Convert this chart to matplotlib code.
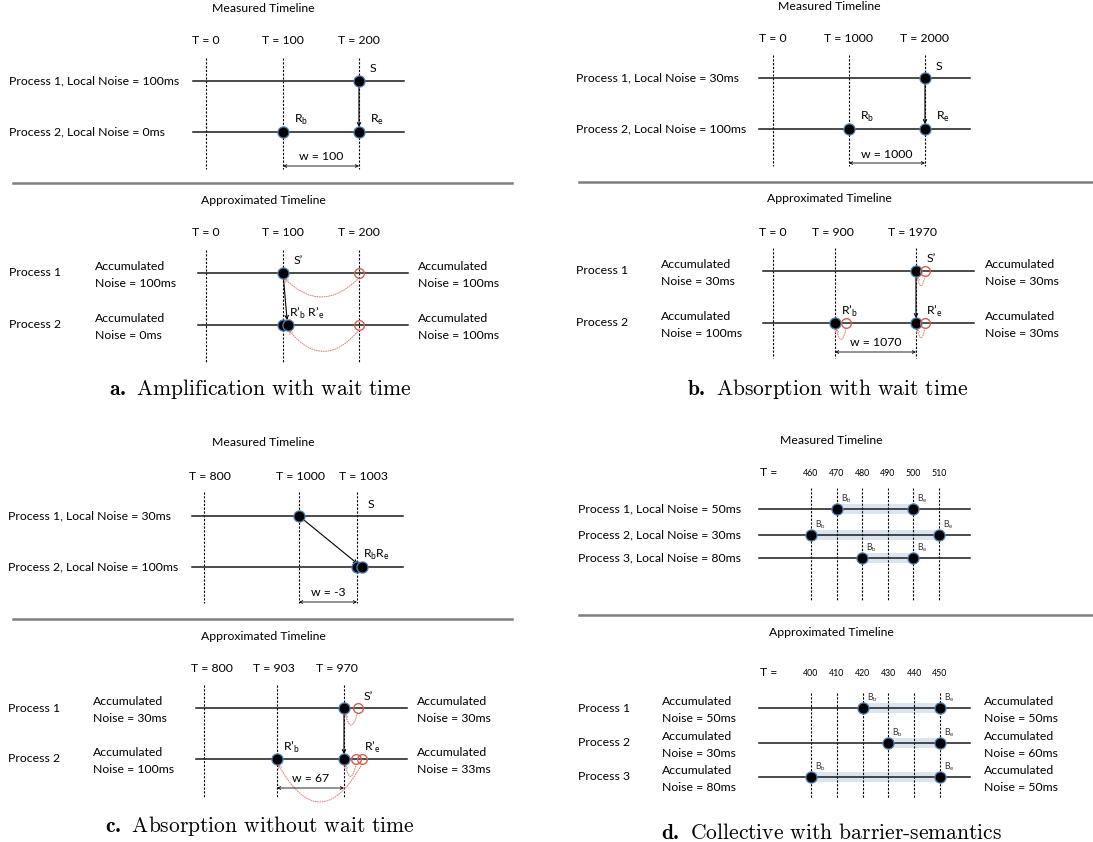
import matplotlib.pyplot as plt
from matplotlib.patches import FancyArrowPatch, Rectangle

plt.rcParams['font.family'] = ['Lato', 'DejaVu Sans']
plt.rcParams['mathtext.fontset'] = 'custom'
plt.rcParams['mathtext.rm'] = 'Lato'
plt.rcParams['mathtext.bf'] = 'cmb10'

# ---------------- data ----------------
# events are (process, guide, slot); slot = small step to the right of the guide
# a. Amplification with wait time
a_meas_ticks = ['T = 0', 'T = 100', 'T = 200']
a_meas_procs = ['Process 1, Local Noise = 100ms', 'Process 2, Local Noise = 0ms']
a_meas_dots = [(0, 2, 0), (1, 1, 0), (1, 2, 0)]
a_meas_labels = [(0, 2, 1, 'S'), (1, 1, 1, 'R$_\\mathrm{b}$'), (1, 2, 1, 'R$_\\mathrm{e}$')]
a_meas_msgs = [((0, 2, 0), (1, 2, 0))]
a_meas_wait = (1, 2, 'w = 100')

a_apx_ticks = ['T = 0', 'T = 100', 'T = 200']
a_apx_procs = ['Process 1', 'Process 2']
a_apx_noise_in = ['Accumulated\nNoise = 100ms', 'Accumulated\nNoise = 0ms']
a_apx_noise_out = ['Accumulated\nNoise = 100ms', 'Accumulated\nNoise = 100ms']
a_apx_dots = [(0, 1, 0), (1, 1, 0), (1, 1, 1)]
a_apx_ghosts = [(0, 2, 0), (1, 2, 0)]
a_apx_shifts = [((0, 2, 0), (0, 1, 0)), ((1, 2, 0), (1, 1, 1))]
a_apx_labels = [(0, 1, 1, 'S\u2019'), (1, 1, 0, 'R\u2019$_\\mathrm{b}$ R\u2019$_\\mathrm{e}$')]
a_apx_msgs = [((0, 1, 0), (1, 1, 1))]

# b. Absorption with wait time
b_meas_ticks = ['T = 0', 'T = 1000', 'T = 2000']
b_meas_procs = ['Process 1, Local Noise = 30ms', 'Process 2, Local Noise = 100ms']
b_meas_dots = [(0, 2, 0), (1, 1, 0), (1, 2, 0)]
b_meas_labels = [(0, 2, 1, 'S'), (1, 1, 1, 'R$_\\mathrm{b}$'), (1, 2, 1, 'R$_\\mathrm{e}$')]
b_meas_msgs = [((0, 2, 0), (1, 2, 0))]
b_meas_wait = (1, 2, 'w = 1000')

b_apx_ticks = ['T = 0', 'T = 900', 'T = 1970']
b_apx_procs = ['Process 1', 'Process 2']
b_apx_noise_in = ['Accumulated\nNoise = 30ms', 'Accumulated\nNoise = 100ms']
b_apx_noise_out = ['Accumulated\nNoise = 30ms', 'Accumulated\nNoise = 30ms']
b_apx_dots = [(0, 2, 0), (1, 1, 0), (1, 2, 0)]
b_apx_ghosts = [(0, 2, 2), (1, 1, 2.5), (1, 2, 2)]
b_apx_shifts = [((0, 2, 2), (0, 2, 0)), ((1, 1, 2.5), (1, 1, 0)), ((1, 2, 2), (1, 2, 0))]
b_apx_labels = [(0, 2, 1, 'S\u2019'), (1, 1, 0, 'R\u2019$_\\mathrm{b}$'), (1, 2, 1, 'R\u2019$_\\mathrm{e}$')]
b_apx_msgs = [((0, 2, 0), (1, 2, 0))]
b_apx_wait = (1, 2, 'w = 1070')

# c. Absorption without wait time
c_meas_ticks = ['T = 800', 'T = 1000', 'T = 1003']
c_meas_procs = ['Process 1, Local Noise = 30ms', 'Process 2, Local Noise = 100ms']
c_meas_dots = [(0, 1, 0), (1, 2, 0), (1, 2, 1)]
c_meas_labels = [(0, 2, 1, 'S'), (1, 2, 0, 'R$_\\mathrm{b}$R$_\\mathrm{e}$')]
c_meas_msgs = [((0, 1, 0), (1, 2, 1))]
c_meas_wait = (1, 2, 'w = -3')

c_apx_ticks = ['T = 800', 'T = 903', 'T = 970']
c_apx_procs = ['Process 1', 'Process 2']
c_apx_noise_in = ['Accumulated\nNoise = 30ms', 'Accumulated\nNoise = 100ms']
c_apx_noise_out = ['Accumulated\nNoise = 30ms', 'Accumulated\nNoise = 33ms']
c_apx_dots = [(0, 2, 0), (1, 1, 0), (1, 2, 0)]
c_apx_ghosts = [(0, 2, 3), (1, 2, 2.7), (1, 2, 4)]
c_apx_shifts = [((0, 2, 3), (0, 2, 0)), ((1, 2, 2.7), (1, 2, 0)), ((1, 2, 4), (1, 1, 0))]
c_apx_labels = [(0, 2, 3, 'S\u2019'), (1, 1, 0, 'R\u2019$_\\mathrm{b}$'), (1, 2, 3, 'R\u2019$_\\mathrm{e}$')]
c_apx_msgs = [((0, 2, 0), (1, 2, 0))]
c_apx_wait = (1, 2, 'w = 67')

# d. Collective with barrier-semantics
d_meas_ticks = [460, 470, 480, 490, 500, 510]
d_meas_procs = ['Process 1, Local Noise = 50ms', 'Process 2, Local Noise = 30ms',
                'Process 3, Local Noise = 80ms']
d_meas_barrier = [(470, 500), (460, 510), (480, 500)]

d_apx_ticks = [400, 410, 420, 430, 440, 450]
d_apx_procs = ['Process 1', 'Process 2', 'Process 3']
d_apx_noise_in = ['Accumulated\nNoise = 50ms', 'Accumulated\nNoise = 30ms', 'Accumulated\nNoise = 80ms']
d_apx_noise_out = ['Accumulated\nNoise = 50ms', 'Accumulated\nNoise = 60ms', 'Accumulated\nNoise = 50ms']
d_apx_barrier = [(420, 450), (430, 450), (400, 450)]

captions = ['Amplification with wait time', 'Absorption with wait time',
            'Absorption without wait time', 'Collective with barrier-semantics']

# ---------------- drawing ----------------
FS = 8.8
SLOT = 4.5
RED = '#e07a6a'
DOT = dict(marker='o', ms=8, mfc='black', mec='#4f81bd', mew=0.9, ls='none', zorder=6)
GHOST = dict(marker='o', ms=7, mfc='none', mec='#d9604f', mew=1.0, ls='none', zorder=6)

fig = plt.figure(figsize=(10.93, 8.42), dpi=100)
ax = fig.add_axes([0, 0, 1, 1])
ax.set_xlim(0, 1093)
ax.set_ylim(842, 0)
ax.axis('off')


def base(lay, title, ticks, procs, noise_in=None, noise_out=None, tick_x=None):
    ax.text(lay['cx'], lay['title_y'], title, ha='center', va='center', fontsize=FS)
    for x, t in zip(tick_x, ticks):
        ax.text(x, lay['tick_y'], t, ha='center', va='center', fontsize=lay.get('tick_fs', FS))
    for x in lay['guides']:
        ax.plot([x, x], lay['span'], color='black', lw=0.8, ls=(0, (2, 1.4)), zorder=2)
    for i, (y, name) in enumerate(zip(lay['rows'], procs)):
        ax.plot(lay['line'], [y, y], color='#1a1a1a', lw=1.1, zorder=3)
        ax.text(lay['label_x'], y, name, ha='left', va='center', fontsize=FS)
        if noise_in:
            ax.text(lay['in_x'], y + 2, noise_in[i], ha='left', va='center',
                    fontsize=FS, linespacing=1.6)
            ax.text(lay['out_x'], y + 2, noise_out[i], ha='left', va='center',
                    fontsize=FS, linespacing=1.6)


def timeline(lay, title, ticks, procs, dots=(), ghosts=(), labels=(), msgs=(),
             shifts=(), wait=None, noise_in=None, noise_out=None):
    gx, ry = lay['guides'], lay['rows']

    def pos(ev):
        p, g, s = ev
        return gx[g] + s * SLOT, ry[p]

    base(lay, title, ticks, procs, noise_in, noise_out, lay.get('tick_x', gx))
    for ev in dots:
        ax.plot(*pos(ev), **DOT)
    for ev in ghosts:
        ax.plot(*pos(ev), **GHOST)
    for p, g, s, txt in labels:
        ax.text(gx[g] + s * SLOT + 6, ry[p] - 12, txt, ha='left', va='center', fontsize=FS)
    for a, b in msgs:
        ax.add_patch(FancyArrowPatch(pos(a), pos(b), arrowstyle='->', mutation_scale=6,
                                     lw=0.8, color='black', shrinkA=3.5, shrinkB=3.5, zorder=5))
    for (a, b), rad in zip(shifts, lay.get('bends', [])):
        xa, ya = pos(a)
        xb, yb = pos(b)
        ax.add_patch(FancyArrowPatch((xa, ya + 5), (xb + 1, yb + 5), arrowstyle='->',
                                     mutation_scale=6, lw=0.7, color=RED, ls=(0, (1, 1.4)),
                                     connectionstyle='arc3,rad=%s' % rad,
                                     shrinkA=0, shrinkB=0, zorder=4))
    if wait:
        g0, g1, txt = wait
        y = lay['wait_y']
        ax.add_patch(FancyArrowPatch((gx[g0], y), (gx[g1], y), arrowstyle='<->',
                                     mutation_scale=5, lw=0.6, color='black',
                                     shrinkA=0, shrinkB=0, zorder=4))
        ax.text((gx[g0] + gx[g1]) / 2, y - 9, txt, ha='center', va='center', fontsize=FS)


def barrier(lay, title, ticks, procs, spans, noise_in=None, noise_out=None):
    step = ticks[1] - ticks[0]

    def tx(t):
        return lay['x0'] + (t - ticks[0]) / step * lay['step']

    lay['guides'] = [tx(t) for t in ticks]
    base(lay, title, [str(t) for t in ticks], procs, noise_in, noise_out, lay['guides'])
    ax.text(lay['teq_x'], lay['tick_y'], 'T =', ha='center', va='center', fontsize=FS)
    for y, (tb, te) in zip(lay['rows'], spans):
        ax.add_patch(Rectangle((tx(tb), y - 5), tx(te) - tx(tb), 10, color='#dbe5f1', lw=0, zorder=1))
        ax.plot([tx(tb), tx(te)], [y, y], **DOT)
        ax.text(tx(tb) + 4, y - 10, 'B$_\\mathrm{b}$', ha='left', va='center', fontsize=6.3, color='#333')
        ax.text(tx(te) + 4, y - 10, 'B$_\\mathrm{e}$', ha='left', va='center', fontsize=6.3, color='#333')


def separator(x0, x1, y):
    ax.plot([x0, x1], [y, y], color='#7f7f7f', lw=1.8)


def caption(x, y, letter, txt):
    ax.text(x, y, '$\\mathbf{%s.}$ %s' % (letter, txt), family='cmr10', fontsize=15.5,
            ha='center', va='center')


MT, AT = 'Measured Timeline', 'Approximated Timeline'

# ---- a ----
timeline(dict(cx=263, title_y=8, tick_y=41, guides=[206, 283, 359], span=[58, 169],
              rows=[81, 132], line=[193, 404], label_x=9, wait_y=166),
         MT, a_meas_ticks, a_meas_procs, a_meas_dots, labels=a_meas_labels,
         msgs=a_meas_msgs, wait=a_meas_wait)
separator(13, 512, 183)
timeline(dict(cx=263, title_y=201, tick_y=233, guides=[206, 283, 359], span=[250, 362],
              rows=[273, 325], line=[198, 408], label_x=9, in_x=95, out_x=418,
              bends=[-0.5, -0.6]),
         AT, a_apx_ticks, a_apx_procs, a_apx_dots, a_apx_ghosts, a_apx_labels,
         a_apx_msgs, a_apx_shifts, noise_in=a_apx_noise_in, noise_out=a_apx_noise_out)
caption(260, 389, 'a', captions[0])

# ---- b ----
timeline(dict(cx=829, title_y=7, tick_y=38, guides=[773, 849, 925], span=[55, 166],
              rows=[78, 129], line=[759, 970], label_x=576, wait_y=163),
         MT, b_meas_ticks, b_meas_procs, b_meas_dots, labels=b_meas_labels,
         msgs=b_meas_msgs, wait=b_meas_wait)
separator(579, 1093, 182)
timeline(dict(cx=829, title_y=199, tick_y=232, guides=[773, 835, 916], tick_x=[773, 833, 913],
              span=[248, 358], rows=[271, 323], line=[763, 974], label_x=576,
              in_x=661, out_x=985, wait_y=352, bends=[-2.4, -2.2, -2.4]),
         AT, b_apx_ticks, b_apx_procs, b_apx_dots, b_apx_ghosts, b_apx_labels,
         b_apx_msgs, b_apx_shifts, b_apx_wait, b_apx_noise_in, b_apx_noise_out)
caption(828, 389, 'b', captions[1])

# ---- c ----
timeline(dict(cx=263, title_y=443, tick_y=476, guides=[204, 299, 357], tick_x=[210, 300, 363],
              span=[492, 603], rows=[516, 567], line=[192, 403], label_x=8, wait_y=602),
         MT, c_meas_ticks, c_meas_procs, c_meas_dots, labels=c_meas_labels,
         msgs=c_meas_msgs, wait=c_meas_wait)
separator(13, 512, 619)
timeline(dict(cx=263, title_y=636, tick_y=668, guides=[204, 277, 344], tick_x=[212, 274, 337],
              span=[685, 797], rows=[708, 759], line=[196, 407], label_x=8,
              in_x=93, out_x=417, wait_y=788, bends=[-1.9, -2.2, -0.9]),
         AT, c_apx_ticks, c_apx_procs, c_apx_dots, c_apx_ghosts, c_apx_labels,
         c_apx_msgs, c_apx_shifts, c_apx_wait, c_apx_noise_in, c_apx_noise_out)
caption(260, 826, 'c', captions[2])

# ---- d ----
barrier(dict(cx=831, title_y=440, tick_y=473, teq_x=769, x0=811, step=25.6, tick_fs=6.3,
             span=[488, 600], rows=[509, 535, 558], line=[759, 970], label_x=578),
        MT, d_meas_ticks, d_meas_procs, d_meas_barrier)
separator(579, 1093, 615)
barrier(dict(cx=831, title_y=632, tick_y=673, teq_x=769, x0=811, step=25.8, tick_fs=6.3,
             span=[693, 798], rows=[708, 743, 777], line=[759, 970], label_x=578,
             in_x=662, out_x=984),
        AT, d_apx_ticks, d_apx_procs, d_apx_barrier, d_apx_noise_in, d_apx_noise_out)
caption(831, 833, 'd', captions[3])

fig.savefig('out.png', dpi=100)
